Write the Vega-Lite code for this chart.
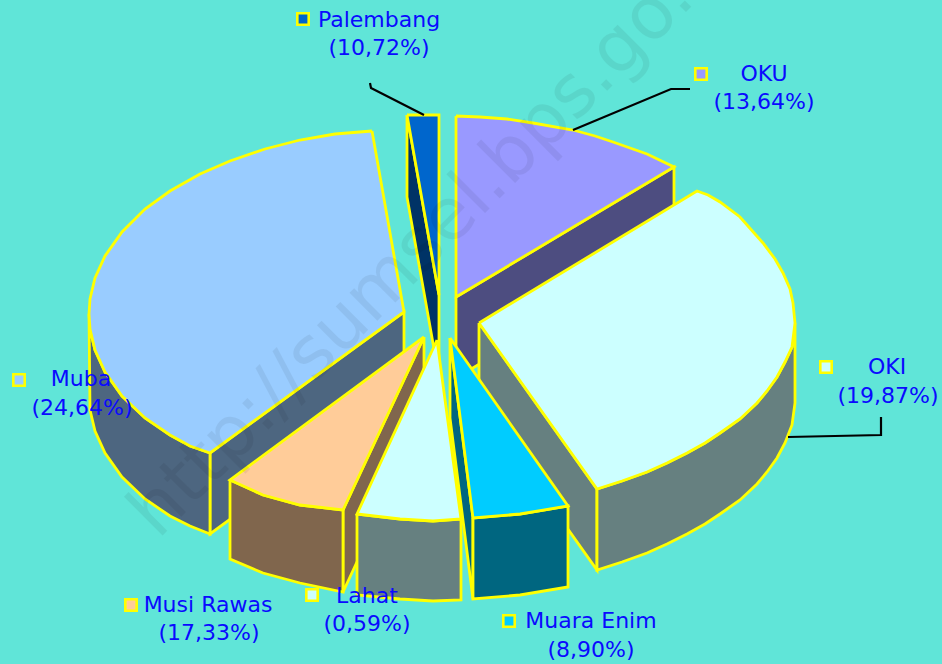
{"$schema":"https://vega.github.io/schema/vega-lite/v6.json","width":942,"height":664,"autosize":"none","padding":0,"background":"#60E5D8","config":{"view":{"stroke":null}},
"encoding":{"x":{"field":"x","type":"quantitative","scale":{"domain":[0,942],"nice":false,"zero":false},"axis":null},"y":{"field":"y","type":"quantitative","scale":{"domain":[664,0],"nice":false,"zero":false},"axis":null}},
"datasets":{"faces":[
{"s":"OKU side","i":0,"x":456,"y":297},{"s":"OKU side","i":1,"x":674,"y":167},{"s":"OKU side","i":2,"x":674,"y":248},{"s":"OKU side","i":3,"x":456,"y":378},{"s":"OKU side","i":4,"x":456,"y":297},
{"s":"OKU top","i":0,"x":456,"y":116},{"s":"OKU top","i":1,"x":480,"y":117},{"s":"OKU top","i":2,"x":507,"y":119},{"s":"OKU top","i":3,"x":533,"y":123},{"s":"OKU top","i":4,"x":573,"y":130},{"s":"OKU top","i":5,"x":595,"y":136},{"s":"OKU top","i":6,"x":613,"y":142},{"s":"OKU top","i":7,"x":647,"y":154},{"s":"OKU top","i":8,"x":674,"y":167},{"s":"OKU top","i":9,"x":456,"y":297},{"s":"OKU top","i":10,"x":456,"y":116},
{"s":"Palembang side","i":0,"x":407,"y":115},{"s":"Palembang side","i":1,"x":439,"y":295},{"s":"Palembang side","i":2,"x":439,"y":377},{"s":"Palembang side","i":3,"x":407,"y":197},{"s":"Palembang side","i":4,"x":407,"y":115},
{"s":"Palembang top","i":0,"x":407,"y":115},{"s":"Palembang top","i":1,"x":439,"y":115},{"s":"Palembang top","i":2,"x":439,"y":295},{"s":"Palembang top","i":3,"x":407,"y":115},
{"s":"Muba side","i":0,"x":210,"y":453},{"s":"Muba side","i":1,"x":404,"y":312},{"s":"Muba side","i":2,"x":404,"y":392},{"s":"Muba side","i":3,"x":210,"y":534},{"s":"Muba side","i":4,"x":210,"y":453},
{"s":"Muba wall","i":0,"x":89,"y":314},{"s":"Muba wall","i":1,"x":90,"y":329},{"s":"Muba wall","i":2,"x":95,"y":350},{"s":"Muba wall","i":3,"x":105,"y":372},{"s":"Muba wall","i":4,"x":122,"y":396},{"s":"Muba wall","i":5,"x":145,"y":418},{"s":"Muba wall","i":6,"x":170,"y":435},{"s":"Muba wall","i":7,"x":190,"y":446},{"s":"Muba wall","i":8,"x":210,"y":453},{"s":"Muba wall","i":9,"x":210,"y":534},{"s":"Muba wall","i":10,"x":190,"y":526},{"s":"Muba wall","i":11,"x":170,"y":516},{"s":"Muba wall","i":12,"x":145,"y":499},{"s":"Muba wall","i":13,"x":122,"y":477},{"s":"Muba wall","i":14,"x":105,"y":453},{"s":"Muba wall","i":15,"x":95,"y":431},{"s":"Muba wall","i":16,"x":90,"y":410},{"s":"Muba wall","i":17,"x":89,"y":314},
{"s":"Muba top","i":0,"x":372,"y":131},{"s":"Muba top","i":1,"x":335,"y":134},{"s":"Muba top","i":2,"x":300,"y":140},{"s":"Muba top","i":3,"x":265,"y":149},{"s":"Muba top","i":4,"x":230,"y":161},{"s":"Muba top","i":5,"x":200,"y":174},{"s":"Muba top","i":6,"x":170,"y":191},{"s":"Muba top","i":7,"x":145,"y":209},{"s":"Muba top","i":8,"x":122,"y":232},{"s":"Muba top","i":9,"x":105,"y":256},{"s":"Muba top","i":10,"x":95,"y":278},{"s":"Muba top","i":11,"x":90,"y":299},{"s":"Muba top","i":12,"x":89,"y":314},{"s":"Muba top","i":13,"x":90,"y":329},{"s":"Muba top","i":14,"x":95,"y":350},{"s":"Muba top","i":15,"x":105,"y":372},{"s":"Muba top","i":16,"x":122,"y":396},{"s":"Muba top","i":17,"x":145,"y":418},{"s":"Muba top","i":18,"x":170,"y":435},{"s":"Muba top","i":19,"x":190,"y":446},{"s":"Muba top","i":20,"x":210,"y":453},{"s":"Muba top","i":21,"x":404,"y":312},{"s":"Muba top","i":22,"x":372,"y":131},
{"s":"OKI side","i":0,"x":479,"y":323},{"s":"OKI side","i":1,"x":597,"y":489},{"s":"OKI side","i":2,"x":597,"y":570},{"s":"OKI side","i":3,"x":479,"y":404},{"s":"OKI side","i":4,"x":479,"y":323},
{"s":"OKI wall","i":0,"x":795,"y":323},{"s":"OKI wall","i":1,"x":792,"y":347},{"s":"OKI wall","i":2,"x":785,"y":362},{"s":"OKI wall","i":3,"x":777,"y":377},{"s":"OKI wall","i":4,"x":767,"y":391},{"s":"OKI wall","i":5,"x":757,"y":403},{"s":"OKI wall","i":6,"x":740,"y":419},{"s":"OKI wall","i":7,"x":720,"y":433},{"s":"OKI wall","i":8,"x":705,"y":443},{"s":"OKI wall","i":9,"x":687,"y":453},{"s":"OKI wall","i":10,"x":667,"y":463},{"s":"OKI wall","i":11,"x":647,"y":472},{"s":"OKI wall","i":12,"x":622,"y":481},{"s":"OKI wall","i":13,"x":597,"y":489},{"s":"OKI wall","i":14,"x":597,"y":570},{"s":"OKI wall","i":15,"x":622,"y":562},{"s":"OKI wall","i":16,"x":647,"y":553},{"s":"OKI wall","i":17,"x":667,"y":544},{"s":"OKI wall","i":18,"x":687,"y":534},{"s":"OKI wall","i":19,"x":705,"y":524},{"s":"OKI wall","i":20,"x":720,"y":514},{"s":"OKI wall","i":21,"x":740,"y":500},{"s":"OKI wall","i":22,"x":757,"y":484},{"s":"OKI wall","i":23,"x":767,"y":472},{"s":"OKI wall","i":24,"x":777,"y":458},{"s":"OKI wall","i":25,"x":785,"y":443},{"s":"OKI wall","i":26,"x":792,"y":425},{"s":"OKI wall","i":27,"x":795,"y":403},{"s":"OKI wall","i":28,"x":795,"y":323},
{"s":"OKI top","i":0,"x":479,"y":323},{"s":"OKI top","i":1,"x":697,"y":191},{"s":"OKI top","i":2,"x":708,"y":195},{"s":"OKI top","i":3,"x":720,"y":202},{"s":"OKI top","i":4,"x":740,"y":217},{"s":"OKI top","i":5,"x":763,"y":243},{"s":"OKI top","i":6,"x":775,"y":259},{"s":"OKI top","i":7,"x":783,"y":273},{"s":"OKI top","i":8,"x":790,"y":289},{"s":"OKI top","i":9,"x":793,"y":303},{"s":"OKI top","i":10,"x":795,"y":323},{"s":"OKI top","i":11,"x":792,"y":347},{"s":"OKI top","i":12,"x":785,"y":362},{"s":"OKI top","i":13,"x":777,"y":377},{"s":"OKI top","i":14,"x":767,"y":391},{"s":"OKI top","i":15,"x":757,"y":403},{"s":"OKI top","i":16,"x":740,"y":419},{"s":"OKI top","i":17,"x":720,"y":433},{"s":"OKI top","i":18,"x":705,"y":443},{"s":"OKI top","i":19,"x":687,"y":453},{"s":"OKI top","i":20,"x":667,"y":463},{"s":"OKI top","i":21,"x":647,"y":472},{"s":"OKI top","i":22,"x":622,"y":481},{"s":"OKI top","i":23,"x":597,"y":489},{"s":"OKI top","i":24,"x":479,"y":323},
{"s":"Muara Enim side","i":0,"x":450,"y":338},{"s":"Muara Enim side","i":1,"x":473,"y":518},{"s":"Muara Enim side","i":2,"x":473,"y":599},{"s":"Muara Enim side","i":3,"x":450,"y":418},{"s":"Muara Enim side","i":4,"x":450,"y":338},
{"s":"Muara Enim wall","i":0,"x":473,"y":518},{"s":"Muara Enim wall","i":1,"x":520,"y":514},{"s":"Muara Enim wall","i":2,"x":568,"y":506},{"s":"Muara Enim wall","i":3,"x":568,"y":587},{"s":"Muara Enim wall","i":4,"x":520,"y":595},{"s":"Muara Enim wall","i":5,"x":473,"y":599},{"s":"Muara Enim wall","i":6,"x":473,"y":518},
{"s":"Muara Enim top","i":0,"x":450,"y":338},{"s":"Muara Enim top","i":1,"x":568,"y":506},{"s":"Muara Enim top","i":2,"x":520,"y":514},{"s":"Muara Enim top","i":3,"x":473,"y":518},{"s":"Muara Enim top","i":4,"x":450,"y":338},
{"s":"Musi Rawas side","i":0,"x":424,"y":337},{"s":"Musi Rawas side","i":1,"x":343,"y":510},{"s":"Musi Rawas side","i":2,"x":343,"y":592},{"s":"Musi Rawas side","i":3,"x":424,"y":418},{"s":"Musi Rawas side","i":4,"x":424,"y":337},
{"s":"Musi Rawas wall","i":0,"x":230,"y":480},{"s":"Musi Rawas wall","i":1,"x":263,"y":495},{"s":"Musi Rawas wall","i":2,"x":300,"y":505},{"s":"Musi Rawas wall","i":3,"x":343,"y":510},{"s":"Musi Rawas wall","i":4,"x":343,"y":592},{"s":"Musi Rawas wall","i":5,"x":300,"y":583},{"s":"Musi Rawas wall","i":6,"x":263,"y":573},{"s":"Musi Rawas wall","i":7,"x":230,"y":559},{"s":"Musi Rawas wall","i":8,"x":230,"y":480},
{"s":"Musi Rawas top","i":0,"x":424,"y":337},{"s":"Musi Rawas top","i":1,"x":343,"y":510},{"s":"Musi Rawas top","i":2,"x":300,"y":505},{"s":"Musi Rawas top","i":3,"x":263,"y":495},{"s":"Musi Rawas top","i":4,"x":230,"y":480},{"s":"Musi Rawas top","i":5,"x":424,"y":337},
{"s":"Lahat wall","i":0,"x":357,"y":514},{"s":"Lahat wall","i":1,"x":400,"y":519},{"s":"Lahat wall","i":2,"x":433,"y":521},{"s":"Lahat wall","i":3,"x":461,"y":519},{"s":"Lahat wall","i":4,"x":461,"y":600},{"s":"Lahat wall","i":5,"x":433,"y":601},{"s":"Lahat wall","i":6,"x":400,"y":599},{"s":"Lahat wall","i":7,"x":357,"y":595},{"s":"Lahat wall","i":8,"x":357,"y":514},
{"s":"Lahat top","i":0,"x":437,"y":340},{"s":"Lahat top","i":1,"x":461,"y":519},{"s":"Lahat top","i":2,"x":433,"y":521},{"s":"Lahat top","i":3,"x":400,"y":519},{"s":"Lahat top","i":4,"x":357,"y":514},{"s":"Lahat top","i":5,"x":437,"y":340}
],
"leaders":[
{"k":"Palembang","i":0,"x":370,"y":83},{"k":"Palembang","i":1,"x":371,"y":88},{"k":"Palembang","i":2,"x":424,"y":115},
{"k":"OKU","i":0,"x":690,"y":89},{"k":"OKU","i":1,"x":671,"y":89},{"k":"OKU","i":2,"x":573,"y":130},
{"k":"OKI","i":0,"x":881,"y":417},{"k":"OKI","i":1,"x":881,"y":435},{"k":"OKI","i":2,"x":788,"y":437}
],
"keys":[
{"s":"Palembang top","x":303,"y":19},{"s":"OKU top","x":701,"y":74},{"s":"OKI top","x":826,"y":367},{"s":"Muba top","x":19,"y":380},{"s":"Musi Rawas top","x":131,"y":605},{"s":"Lahat top","x":312,"y":595},{"s":"Muara Enim top","x":509,"y":621}
],
"labels":[
{"t":"Palembang","x":379,"y":20},{"t":"(10,72%)","x":379,"y":48},
{"t":"OKU","x":764,"y":74},{"t":"(13,64%)","x":764,"y":102},
{"t":"OKI","x":887,"y":367},{"t":"(19,87%)","x":888,"y":396},
{"t":"Muba","x":81,"y":379},{"t":"(24,64%)","x":82,"y":408},
{"t":"Musi Rawas","x":208,"y":605},{"t":"(17,33%)","x":209,"y":633},
{"t":"Lahat","x":367,"y":596},{"t":"(0,59%)","x":367,"y":624},
{"t":"Muara Enim","x":591,"y":621},{"t":"(8,90%)","x":591,"y":650}
],
"mark":[{"t":"http://sumsel.bps.go.id","x":158,"y":540}]},
"layer":[
{"data":{"name":"faces"},"mark":{"type":"line","stroke":"#FFFF00","strokeWidth":2.8},
"encoding":{"order":{"field":"i"},"detail":{"field":"s"},
"fill":{"field":"s","type":"nominal","legend":null,"scale":{"domain":["OKU side","OKU top","Palembang side","Palembang top","Muba side","Muba wall","Muba top","OKI side","OKI wall","OKI top","Muara Enim side","Muara Enim wall","Muara Enim top","Musi Rawas side","Musi Rawas wall","Musi Rawas top","Lahat wall","Lahat top"],"range":["#4D4D80","#9999FF","#003366","#0066CC","#4D6680","#4D6680","#99CCFF","#668080","#668080","#CCFFFF","#006680","#006680","#00CCFF","#80664D","#80664D","#FFCC99","#668080","#CCFFFF"]}}}},
{"data":{"name":"leaders"},"mark":{"type":"line","stroke":"#000000","strokeWidth":2.2},
"encoding":{"order":{"field":"i"},"detail":{"field":"k"}}},
{"data":{"name":"keys"},"mark":{"type":"point","shape":"square","filled":true,"size":130,"opacity":1,"stroke":"#FFFF00","strokeWidth":2.6},
"encoding":{"fill":{"field":"s","type":"nominal","legend":null}}},
{"data":{"name":"labels"},"mark":{"type":"text","font":"DejaVu Sans","fontSize":22,"color":"#0A0AFF","align":"center","baseline":"middle"},
"encoding":{"text":{"field":"t"}}},
{"data":{"name":"mark"},"mark":{"type":"text","font":"DejaVu Sans","fontSize":72,"color":"#000000","opacity":0.06,"angle":315,"align":"left","baseline":"alphabetic"},
"encoding":{"text":{"field":"t"}}}
]}
